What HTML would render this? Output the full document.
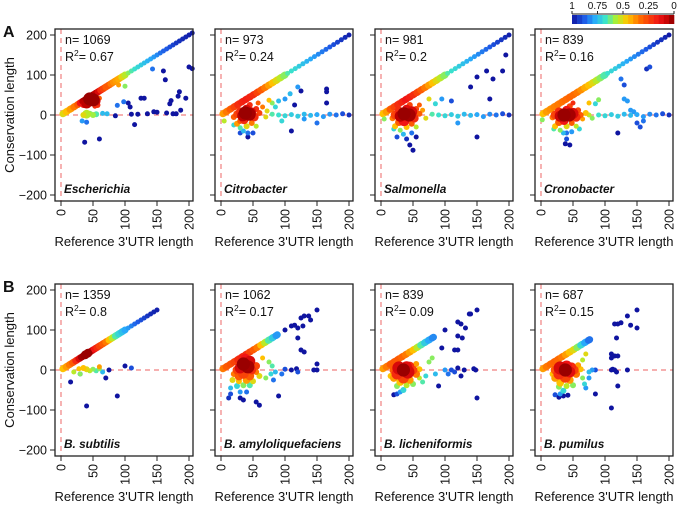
<!DOCTYPE html>
<html><head><meta charset="utf-8"><style>
body{margin:0;background:#fff}
svg{display:block;font-family:"Liberation Sans",Arial,sans-serif}
</style></head><body>
<svg id="fig" width="678" height="509" viewBox="0 0 678 509" xmlns="http://www.w3.org/2000/svg"></svg>
<script>
// ---------- data ----------
const panelNames=["Escherichia","Citrobacter","Salmonella","Cronobacter","B. subtilis","B. amyloliquefaciens","B. licheniformis","B. pumilus"];
const panelN=["1069","973","981","839","1359","1062","839","687"];
const panelR2=["0.67","0.24","0.2","0.16","0.8","0.17","0.09","0.15"];
const xTicks=[0,50,100,150,200];
const yTicks=[-200,-100,0,100,200];
const cbTicks=[1,0.75,0.5,0.25,0];
const cbLabels=["1","0.75","0.5","0.25","0"];
const diagX1=[3,8,14,20,26,30,34,38,42,46,50,54,58,62,66,70,74,78,82,86,90,95,100,105,110,115,120,125,130,135,140,145,150,155,160,165,170,175,180,185,190,195,200,205];
const diagV1=[.5,.45,.4,.35,.3,.15,.05,.02,.02,.02,.03,.05,.1,.2,.25,.3,.3,.35,.38,.4,.42,.5,.55,.6,.65,.68,.7,.72,.74,.76,.78,.8,.82,.85,.87,.88,.9,.92,.94,.95,.96,.97,.98,.99];
const diagX2=[3,8,14,20,26,32,38,44,50,56,62,68,74,80,86,92,98,104,110,116,122,128,134,140,146,152,158,164,170,176,182,188,194,200];
const diagV2=[.4,.35,.3,.25,.2,.18,.17,.18,.2,.25,.3,.35,.4,.45,.5,.55,.6,.65,.68,.7,.72,.74,.76,.78,.8,.82,.84,.86,.88,.9,.92,.94,.96,.98];
const diagX3=[3,8,14,20,26,32,38,44,50,56,62,68,74,80,86,92,98,104,110,116,122,128,134,140,146,152,158,164,170,176,182,188,194,200];
const diagV3=[.45,.4,.3,.25,.2,.18,.15,.17,.2,.25,.3,.35,.4,.45,.5,.55,.6,.65,.68,.7,.72,.74,.76,.78,.8,.82,.84,.86,.88,.9,.92,.94,.96,.98];
const diagX4=[3,8,14,20,26,32,38,44,50,56,62,68,74,80,86,92,98,104,110,116,122,128,134,140,146,152,158,164,170,176,182,188,194,200];
const diagV4=[.45,.4,.38,.36,.35,.34,.33,.32,.33,.35,.38,.42,.45,.5,.55,.6,.65,.68,.7,.72,.74,.76,.78,.8,.82,.84,.86,.88,.9,.92,.94,.95,.97,.99];
const diagX5=[3,8,13,18,23,28,32,36,40,44,48,52,56,60,65,70,75,80,85,90,95,100,105,110,115,120,125,130,135,140,145,150];
const diagV5=[.45,.4,.35,.3,.2,.1,.03,.02,.02,.03,.08,.15,.2,.25,.3,.35,.45,.55,.65,.7,.74,.78,.8,.83,.86,.88,.9,.92,.94,.96,.97,.98];
const diagX6=[3,8,14,20,26,32,38,44,50,56,62,68,74,80,86];
const diagV6=[.35,.3,.28,.25,.2,.18,.2,.25,.3,.35,.45,.55,.65,.72,.8];
const diagX7=[3,8,14,20,26,32,38,44,50,56,62,68,74,80];
const diagV7=[.4,.35,.3,.3,.3,.32,.35,.4,.45,.55,.65,.72,.78,.82];
const diagX8=[3,8,14,20,26,32,38,44,50,56,62,68,74];
const diagV8=[.4,.35,.33,.32,.33,.35,.4,.45,.5,.6,.7,.78,.85];
const pts1=[[45,40,.02,6],[50,38,.02,6],[40,30,.05,5],[55,35,.1,4],[57,25,.2,3],[60,42,.3,2.5],[53,22,.2,2.5],[35,25,.15,3],
[40,2,.55,4],[35,0,.5,3],[45,3,.6,3],[55,2,.65,3],[65,4,.75,2.5],[72,3,.75,2.5],[50,0,.58,3],[33,-15,.8,2.5],[40,-18,.85,2.5],
[37,-68,1,2.5],[60,-60,1,2.5],[100,72,.6,2.5],[90,75,.4,2.5],[88,24,.85,2.5],[98,33,.85,2.5],[105,30,1,2.5],[108,20,1,2.5],[110,2,1,2.5],
[115,-24,1,2.5],[120,2,1,2.5],[125,42,1,2.5],[130,42,1,2.5],[135,3,1,2.5],[143,115,.85,2.5],[145,8,1,2.5],[150,7,1,2.5],[160,110,1,2.5],
[163,88,1,2.5],[165,5,1,2.5],[170,28,1,2.5],[172,36,1,2.5],[175,3,1,2.5],[180,3,1,2.5],[183,47,1,2.5],[185,58,1,2.5],[187,12,1,2.5],
[195,42,1,2.5],[200,120,1,2.5],[205,116,1,2.5],[85,-2,1,2.5]];
const pts2=[[38,5,.02,7],[44,2,.03,6],[34,-2,.05,5],[48,8,.1,4],[40,15,.1,4],[30,8,.2,4],[25,2,.25,3.5],[52,-5,.2,4],[36,-12,.2,4],
[55,15,.2,3],[45,25,.2,3],[60,5,.25,3],[30,-15,.3,3],[48,-20,.35,3],[20,-5,.3,3],[58,30,.3,2.5],[65,20,.35,2.5],[25,-22,.4,3],[40,-28,.5,3],
[55,-28,.55,2.5],[70,-5,.5,2.5],[72,10,.5,2.5],[30,-32,.65,2.5],[20,-25,.7,2.5],[35,-40,.75,2.5],[42,-45,.85,2.5],[50,-45,.9,2.5],
[30,-45,.9,2.5],[42,-55,1,2.5],[75,37,.45,2.5],[80,30,.6,2.5],[90,35,.75,2.5],[85,20,.7,2.5],[100,40,.8,2.5],[108,53,.75,2.5],
[115,25,1,2.5],[125,60,1,2.5],[120,70,.8,2.5],[165,30,1,2.5],[165,58,1,2.5],[165,65,1,2.5],[110,-40,1,2.5],[150,-20,.85,2.5],
[80,2,.65,2.5],[90,0,.68,2.5],[100,-2,.7,2.5],[110,1,.72,2.5],[120,-3,.72,2.5],[130,2,.75,2.5],[140,-1,.75,2.5],[150,1,.78,2.5],
[160,-4,.8,2.5],[170,2,.8,2.5],[180,0,.85,2.5],[190,3,.9,2.5],[200,0,.95,2.5],[95,-15,.7,2.5],[130,-10,.8,2.5],[5,-15,.55,2.5]];
const pts3=[[36,3,.02,8],[44,0,.03,6],[30,-3,.05,5],[48,8,.1,5],[40,15,.12,4],[28,10,.2,4],[22,0,.25,4],[52,-8,.2,4],[36,-14,.15,5],
[55,15,.25,3],[45,25,.25,3],[60,3,.3,3],[28,-18,.3,3.5],[48,-22,.3,3],[18,-8,.35,3],[60,25,.3,2.5],[65,12,.4,2.5],[22,-28,.45,3],
[40,-30,.45,3],[55,-30,.55,2.5],[70,-8,.5,2.5],[30,-38,.6,2.5],[20,-35,.7,2.5],[35,-48,.75,2.5],[48,-45,.85,2.5],[40,-60,.95,2.5],
[55,-55,1,2.5],[45,-75,1,2.5],[50,-88,1,2.5],[25,-55,.9,2.5],[75,40,.5,2.5],[85,28,.7,2.5],[95,40,.8,2.5],[110,35,.9,2.5],
[140,70,1,2.5],[150,95,1,2.5],[165,110,1,2.5],[175,90,1,2.5],[190,110,1,2.5],[195,150,1,2.5],[170,40,1,2.5],[150,-55,1,2.5],
[80,2,.65,2.5],[90,0,.68,2.5],[100,-2,.7,2.5],[110,1,.72,2.5],[120,-3,.72,2.5],[130,2,.75,2.5],[140,-1,.75,2.5],[150,1,.78,2.5],
[160,-4,.8,2.5],[170,2,.82,2.5],[180,0,.85,2.5],[190,3,.9,2.5],[200,0,.95,2.5],[120,-20,.8,2.5],[5,-10,.6,2.5]];
const pts4=[[36,0,.02,7],[44,0,.03,6],[30,-3,.08,5],[50,4,.1,5],[40,12,.15,4],[28,8,.2,4],[22,0,.25,4],[55,-6,.2,4],[36,-14,.15,4],
[58,12,.25,3],[45,22,.25,3],[62,0,.3,3],[28,-18,.3,3.5],[48,-20,.3,3],[18,-6,.35,3],[65,-10,.4,2.5],[70,5,.45,3],[22,-28,.45,3],
[40,-28,.5,3],[55,-28,.55,2.5],[75,0,.55,2.5],[80,-8,.6,2.5],[30,-38,.6,2.5],[20,-35,.65,2.5],[35,-45,.75,2.5],[48,-42,.8,2.5],
[40,-60,.9,2.5],[38,-72,1,2.5],[45,-75,1,2.5],[40,-45,.85,2.5],[60,-35,.7,2.5],[75,30,.45,2.5],[85,28,.7,2.5],[90,38,.6,2.5],
[50,30,.2,2.5],[130,40,.8,2.5],[135,35,.8,2.5],[125,90,.85,2.5],[130,75,.9,2.5],[170,120,.9,2.5],[165,115,.95,2.5],[120,-45,1,2.5],
[150,-20,.9,2.5],[160,-15,.85,2.5],[155,-30,.9,2.5],[140,12,.8,2.5],[145,8,.8,2.5],
[90,0,.68,2.5],[100,-2,.7,2.5],[110,1,.72,2.5],[120,-3,.72,2.5],[130,2,.75,2.5],[140,-1,.75,2.5],[150,1,.78,2.5],
[160,-4,.8,2.5],[170,2,.82,2.5],[180,0,.85,2.5],[190,3,.9,2.5],[200,0,.95,2.5],[2,-12,.6,2.5]];
const pts5=[[38,38,.02,4],[42,42,.02,4],[35,5,.45,3],[40,2,.5,3],[28,3,.45,2.5],[45,-2,.55,2.5],[50,2,.6,2.5],[55,-2,.65,2.5],[60,3,.6,2.5],
[30,-10,.6,2.5],[20,-5,.55,2.5],[65,-5,.75,2.5],[70,-20,1,2.5],[15,-30,1,2.5],[30,-10,.9,2.5],[40,-90,1,2.5],[88,-65,1,2.5],[75,0,1,2.5],
[100,10,1,2.5],[110,5,.9,2.5],[60,8,.4,2.5]];
const pts6=[[35,15,.02,8],[42,8,.03,7],[30,5,.1,5],[45,22,.1,5],[38,30,.15,4],[25,0,.25,4],[48,0,.2,4],[35,-8,.25,5],[28,-15,.3,4],
[45,-15,.3,4],[55,10,.25,3.5],[20,-10,.35,3],[55,-5,.35,3],[40,-25,.4,3.5],[28,-28,.45,3],[50,-28,.5,3],[18,-25,.5,3],[60,-15,.5,3],
[35,-38,.6,3],[45,-38,.65,3],[25,-40,.7,3],[15,-45,.75,2.5],[30,-55,.8,2.5],[40,-55,.85,2.5],[15,-60,.9,2.5],[12,-70,.95,2.5],
[30,-70,1,2.5],[35,-75,1,2.5],[55,-80,1,2.5],[60,-88,1,2.5],[65,30,.45,2.5],[75,20,.6,2.5],[80,10,.65,2.5],[78,-10,.7,2.5],
[70,-20,.6,2.5],[85,-5,.75,2.5],[82,-25,.85,2.5],[90,-65,1,2.5],[100,2,.9,2.5],[95,-10,.85,2.5],[110,0,1,2.5],[118,3,1,2.5],
[100,100,1,2.5],[110,110,1,2.5],[115,112,1,2.5],[120,105,1,2.5],[125,130,1,2.5],[130,135,1,2.5],[137,135,1,2.5],[140,125,1,2.5],
[150,150,1,2.5],[128,110,1,2.5],[120,80,1,2.5],[125,50,1,2.5],[130,45,1,2.5],[145,0,1,2.5],[150,0,1,2.5],[150,15,1,2.5],[120,-5,.9,2.5]];
const pts7=[[35,0,.02,9],[28,5,.1,6],[42,-5,.1,6],[40,8,.12,5],[25,-10,.2,5],[45,10,.2,4],[50,0,.25,4],[20,0,.3,4],[35,-20,.25,5],
[55,-10,.35,3.5],[20,-20,.4,3.5],[45,-25,.4,3.5],[30,-30,.45,3.5],[55,15,.4,3],[60,2,.45,3],[15,-15,.45,3],[40,-38,.55,3],
[25,-40,.6,3],[50,-35,.6,3],[35,-50,.7,3],[30,-55,.8,2.5],[25,-60,.9,2.5],[20,-62,1,2.5],[60,-20,.55,2.5],[65,-30,.65,2.5],
[70,-15,.7,2.5],[75,20,.6,2.5],[80,30,.6,2.5],[85,-10,.75,2.5],[90,-40,1,2.5],[100,0,.8,2.5],[105,-10,.85,2.5],[110,0,.9,2.5],
[120,5,1,2.5],[115,-5,.9,2.5],[125,-15,1,2.5],[130,0,1,2.5],[145,3,1,2.5],[148,0,1,2.5],[150,-70,1,2.5],[95,55,1,2.5],
[115,50,1,2.5],[120,50,1,2.5],[100,100,1,2.5],[120,120,1,2.5],[125,115,1,2.5],[120,85,1,2.5],[127,80,1,2.5],[132,105,1,2.5],
[138,140,1,2.5],[140,140,1,2.5],[150,150,1,2.5]];
const pts8=[[38,0,.02,8],[30,5,.1,6],[45,-5,.12,5],[40,10,.15,5],[28,-10,.2,5],[48,8,.2,4],[52,0,.25,4],[22,0,.3,4],[38,-18,.25,5],
[55,-10,.35,3.5],[22,-20,.4,3.5],[45,-25,.4,3.5],[30,-32,.45,3.5],[58,12,.4,3],[62,2,.45,3],[18,-10,.45,3],[40,-40,.55,3],
[28,-42,.6,3],[50,-38,.6,3],[35,-52,.7,3],[30,-60,.8,2.5],[22,-62,.9,2.5],[28,-68,1,2.5],[35,-65,1,2.5],[42,-63,1,2.5],
[65,-20,.6,2.5],[68,-35,.7,2.5],[70,-45,.8,2.5],[75,-20,.8,2.5],[75,-5,.75,2.5],[80,0,.8,2.5],[65,25,.55,2.5],[70,40,.5,2.5],
[85,0,.9,2.5],[85,-60,1,2.5],[110,0,1,2.5],[112,2,1,2.5],[115,0,1,2.5],[118,-5,1,2.5],[120,-40,1,2.5],[135,0,1,2.5],[110,30,1,2.5],
[110,40,1,2.5],[115,35,1,2.5],[120,35,1,2.5],[118,80,1,2.5],[115,115,1,2.5],[120,115,1,2.5],[125,118,1,2.5],[135,135,1,2.5],
[140,112,1,2.5],[150,150,1,2.5],[150,105,1,2.5],[110,-95,1,2.5]];
const diagXs=[diagX1,diagX2,diagX3,diagX4,diagX5,diagX6,diagX7,diagX8];
const diagVs=[diagV1,diagV2,diagV3,diagV4,diagV5,diagV6,diagV7,diagV8];
const ptsAll=[pts1,pts2,pts3,pts4,pts5,pts6,pts7,pts8];

// ---------- drawing ----------
const NS="http://www.w3.org/2000/svg";
const svg=document.getElementById('fig');
function mk(tag,attrs,parent){const e=document.createElementNS(NS,tag);for(const k in attrs)e.setAttribute(k,attrs[k]);(parent||svg).appendChild(e);return e;}
const stops=[[0,[130,0,0]],[.05,[190,0,0]],[.15,[240,20,20]],[.32,[255,100,0]],[.46,[255,200,0]],[.57,[170,240,50]],[.67,[60,230,200]],[.78,[40,170,250]],[.88,[30,90,230]],[1,[15,20,160]]];
function col(v){for(let i=1;i<stops.length;i++){if(v<=stops[i][0]){const a=stops[i-1],b=stops[i],t=(v-a[0])/(b[0]-a[0]);const c=a[1].map((x,j)=>Math.round(x+(b[1][j]-x)*t));return `rgb(${c})`;}}return 'rgb(15,20,160)';}
const BW=138,BH=172;
function boxLeft(i){return 55+160*(i%4);}
function zeroY(i){return i<4?115:370;}
function sx(i,v){return boxLeft(i)+6+v*0.64;}
function sy(i,v){return zeroY(i)-v*0.4;}

for(let i=0;i<8;i++){
  const g=mk('g',{});
  
  
  const L=boxLeft(i),T=zeroY(i)-86;
  const vl=mk('line',{x1:sx(i,0),x2:sx(i,0),y1:T,y2:T+BH,stroke:'#f08080','stroke-width':1.2,'stroke-dasharray':'5,4'},g);
  
  const hl=mk('line',{x1:L,x2:L+BW,y1:sy(i,0),y2:sy(i,0),stroke:'#f08080','stroke-width':1.2,'stroke-dasharray':'5,4'},g);
  
  const dx=diagXs[i],dv=diagVs[i];
  for(let k=0;k<dx.length;k++){
    const c=mk('circle',{cx:sx(i,dx[k]),cy:sy(i,dx[k]),r:dx[k]>100?2.5:3.5,fill:col(dv[k])},g);
    
    if(dx[k]<100){const c2=mk('circle',{cx:sx(i,dx[k]+2),cy:sy(i,dx[k]+2),r:3.5,fill:col(dv[k])},g);
      }
  }
  const P=ptsAll[i].slice().sort((a,b)=>b[2]-a[2]);
  for(const p of P){
    const r=p[3]>3?Math.min(p[3],6)*1.1:p[3];
    const c=mk('circle',{cx:sx(i,p[0]),cy:sy(i,p[1]),r:r,fill:col(p[2])},g);
    
  }
  const box=mk('rect',{x:L,y:T,width:BW,height:BH,fill:'none',stroke:'#222','stroke-width':1.3},g);
  
  for(const t of yTicks){
    const tl=mk('line',{x1:L-5,x2:L,y1:sy(i,t),y2:sy(i,t),stroke:'#222','stroke-width':1},g);
    
    if(i%4===0){const tx=mk('text',{x:L-8,y:sy(i,t)+4.5,'text-anchor':'end','font-size':12.5,fill:'#111'},g);tx.textContent=t<0?'\u2212'+(-t):String(t);
      }
  }
  for(const t of xTicks){
    const tl=mk('line',{x1:sx(i,t),x2:sx(i,t),y1:T+BH,y2:T+BH+5,stroke:'#222','stroke-width':1},g);
    
    const tx=mk('text',{x:0,y:0,'text-anchor':'end','font-size':12.5,fill:'#111',transform:`translate(${sx(i,t)+4.5},${T+BH+8}) rotate(-90)`},g);tx.textContent=String(t);
    
  }
  const xt=mk('text',{x:L+BW/2,y:T+BH+45,'text-anchor':'middle','font-size':13,fill:'#111'},g);xt.textContent="Reference 3'UTR length";
  
  const nt=mk('text',{x:L+10,y:T+15,'font-size':12.5,fill:'#111'},g);nt.textContent='n= '+panelN[i];
  
  const rt=mk('text',{x:L+10,y:T+32,'font-size':12.5,fill:'#111'},g);rt.innerHTML='R<tspan font-size="8.5" dy="-5">2</tspan><tspan dy="5">= '+panelR2[i]+'</tspan>';
  
  const st=mk('text',{x:L+9,y:T+BH-8,'font-size':11.8,'font-weight':'bold','font-style':'italic',fill:'#111'},g);st.textContent=panelNames[i];
  
}
for(let r=0;r<2;r++){
  const y0=r?370:115;
  const yt=mk('text',{x:0,y:0,'text-anchor':'middle','font-size':13,fill:'#111',transform:`translate(14,${y0}) rotate(-90)`});yt.textContent='Conservation length';
  
  const lb=mk('text',{x:3,y:y0-78,'font-size':16,'font-weight':'bold',fill:'#111'});lb.textContent=r?'B':'A';
  
}
const cb=mk('g',{});

const cbL=572,cbR=674,nSeg=20;
for(let k=0;k<nSeg;k++){
  const v=1-(k+0.5)/nSeg;
  const s=mk('rect',{x:cbL+k*(cbR-cbL)/nSeg,y:15,width:(cbR-cbL)/nSeg+0.3,height:9,fill:col(v)},cb);
  
}
mk('line',{x1:cbL,x2:cbR,y1:14,y2:14,stroke:'#222','stroke-width':1},cb);
cbTicks.forEach((t,k)=>{
  const x=cbL+(1-t)*(cbR-cbL);
  const tl=mk('line',{x1:x,x2:x,y1:11,y2:14,stroke:'#222','stroke-width':1},cb);
  
  const tx=mk('text',{x:x,y:9,'text-anchor':'middle','font-size':10,fill:'#111'},cb);tx.textContent=cbLabels[k];
  
});
</script>
</body></html>
